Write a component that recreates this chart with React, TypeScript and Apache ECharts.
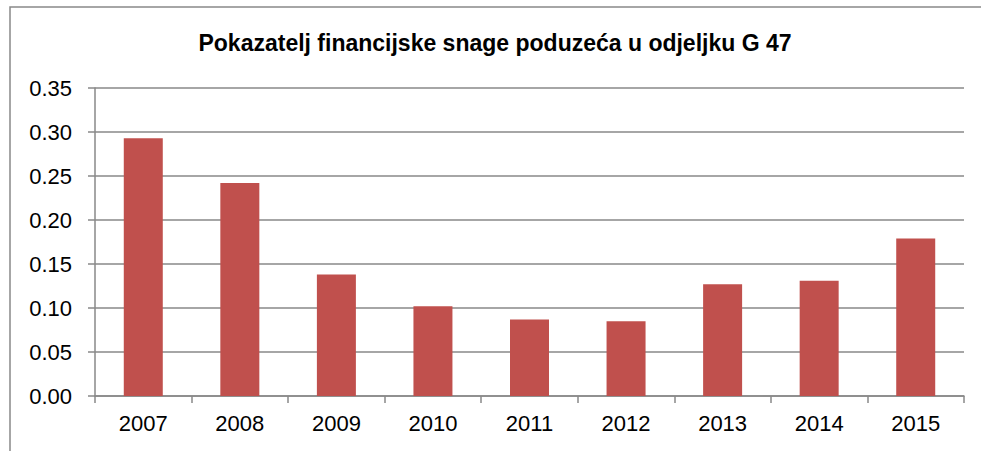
import React, { useEffect, useRef } from "react";
import * as echarts from "echarts";

const categories = ["2007", "2008", "2009", "2010", "2011", "2012", "2013", "2014", "2015"];
const values = [0.293, 0.242, 0.138, 0.102, 0.087, 0.085, 0.127, 0.131, 0.179];
const titleText = "Pokazatelj financijske snage poduzeća u odjeljku G 47";

export default function App() {
  const ref = useRef<HTMLDivElement>(null);
  useEffect(() => {
    if (!ref.current) return;
    const chart = echarts.init(ref.current, null, { renderer: "svg" });
    const font = "Liberation Sans, Arial, sans-serif";
    chart.setOption({
      animation: false,
      backgroundColor: "#ffffff",
      title: {
        text: titleText,
        left: 490,
        top: 26,
        textAlign: "center",
        textStyle: { fontFamily: font, fontSize: 23, fontWeight: "bold", color: "#000" },
      },
      graphic: [
        {
          type: "polyline",
          shape: { points: [[10, 451], [10, 7], [981, 7]] },
          style: { stroke: "#898989", lineWidth: 1.5, fill: "none" },
          silent: true,
        },
      ],
      grid: { left: 95, right: 17, top: 88, bottom: 55, containLabel: false },
      xAxis: {
        type: "category",
        data: categories,
        boundaryGap: true,
        axisLine: { show: true, lineStyle: { color: "#888888", width: 1.5 } },
        axisTick: { show: true, length: 7, alignWithLabel: false, lineStyle: { color: "#888888", width: 1.5 } },
        axisLabel: { fontFamily: font, fontSize: 22, color: "#000", margin: 16 },
        splitLine: { show: false },
      },
      yAxis: {
        type: "value",
        min: 0,
        max: 0.35,
        interval: 0.05,
        axisLine: { show: true, lineStyle: { color: "#888888", width: 1.5 } },
        axisTick: { show: true, length: 7, inside: false, lineStyle: { color: "#888888", width: 1.5 } },
        axisLabel: {
          fontFamily: font,
          fontSize: 22,
          color: "#000",
          margin: 23,
          formatter: (v: number) => v.toFixed(2),
        },
        splitLine: { show: true, lineStyle: { color: "#888888", width: 1.5 } },
      },
      series: [
        {
          type: "bar",
          data: values,
          barWidth: 39,
          itemStyle: { color: "#C0504D" },
        },
      ],
    });
    return () => chart.dispose();
  }, []);
  return (
    <div
      ref={ref}
      style={{ position: "fixed", left: 0, top: 0, width: 981, height: 451 }}
    />
  );
}
